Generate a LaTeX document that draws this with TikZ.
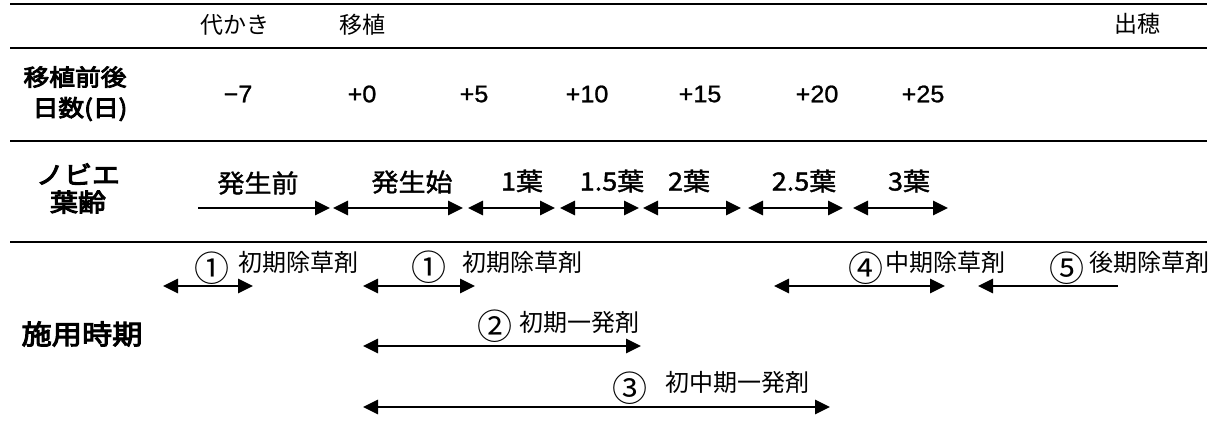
\documentclass[tikz,border=0pt]{standalone}
\usepackage{fontspec}
\setmainfont{Noto Sans CJK JP}
\newfontfamily\jpbold[FakeStretch=1.12,FakeBold=4]{Noto Sans CJK JP}
\newfontfamily\jpmid[FakeStretch=1.08,FakeBold=1.5]{Noto Sans CJK JP}
\newfontfamily\numfont[FakeStretch=1.05,FakeBold=1]{Liberation Sans}
\usetikzlibrary{arrows.meta}
\begin{document}
\begin{tikzpicture}[x=1pt,y=-1pt,
  every node/.style={inner sep=0pt,anchor=center},
  rule/.style={line width=2pt},
  tip/.tip={Triangle[length=15pt,width=14pt]},
  arr/.style={line width=2.7pt,-tip},
  rarr/.style={line width=2.7pt,tip-},
  darr/.style={line width=2.7pt,tip-tip},
  head/.style={font=\fontsize{23}{26}\selectfont},
  rowlab/.style={font=\jpbold\fontsize{23}{26}\selectfont},
  num/.style={font=\numfont\fontsize{24}{26}\selectfont},
  leaf/.style={font=\jpmid\fontsize{25}{27}\selectfont},
  herb/.style={font=\fontsize{24}{26}\selectfont},
  circ/.style={font=\fontsize{35}{37}\selectfont}]
\useasboundingbox (0,0) rectangle (1222,421);

% horizontal rules
\coordinate (r1a) at (10,4);   \coordinate (r1b) at (1207,4);
\coordinate (r2a) at (10,48);  \coordinate (r2b) at (1207,48);
\coordinate (r3a) at (10,141); \coordinate (r3b) at (1207,141);
\coordinate (r4a) at (10,242); \coordinate (r4b) at (1207,242);
\draw[rule] (r1a) -- (r1b);
\draw[rule] (r2a) -- (r2b);
\draw[rule] (r3a) -- (r3b);
\draw[rule] (r4a) -- (r4b);

% header
\node[head] (h1) at (235,25) {代かき};
\node[head] (h2) at (362,25) {移植};
\node[head] (h3) at (1137,24) {出穂};

% days row
\node[rowlab] (d1) at (75,77) {移植前後};
\node[rowlab] (d2) at (80,109) {日数(日)};
\node[num] (n1) at (238,94) {−7};
\node[num] (n2) at (362,94) {+0};
\node[num] (n3) at (474,94) {+5};
\node[num] (n4) at (587,94) {+10};
\node[num] (n5) at (700,94) {+15};
\node[num] (n6) at (817,94) {+20};
\node[num] (n7) at (923,94) {+25};

% leaf age row
\node[rowlab,font=\jpbold\fontsize{25}{27}\selectfont] (e1) at (78,174) {ノビエ};
\node[rowlab,font=\jpbold\fontsize{25}{27}\selectfont] (e2) at (78,202) {葉齢};
\node[leaf] (l1) at (258,183) {発生前};
\node[leaf] (l2) at (412,182) {発生始};
\node[leaf] (l3) at (522,181) {1葉};
\node[leaf] (l4) at (612,181) {1.5葉};
\node[leaf] (l5) at (689,181) {2葉};
\node[leaf] (l6) at (804,181) {2.5葉};
\node[leaf] (l7) at (909,181) {3葉};

\coordinate (a1s) at (198,208); \coordinate (a1e) at (330,208);
\coordinate (a2s) at (333,208); \coordinate (a2e) at (463,208);
\coordinate (a3s) at (468,208); \coordinate (a3e) at (555,208);
\coordinate (a4s) at (560,208); \coordinate (a4e) at (639,208);
\coordinate (a5s) at (643,208); \coordinate (a5e) at (741,208);
\coordinate (a6s) at (748,208); \coordinate (a6e) at (843,208);
\coordinate (a7s) at (853,208); \coordinate (a7e) at (948,208);
\draw[arr]  (a1s) -- (a1e);
\draw[darr] (a2s) -- (a2e);
\draw[darr] (a3s) -- (a3e);
\draw[darr] (a4s) -- (a4e);
\draw[darr] (a5s) -- (a5e);
\draw[darr] (a6s) -- (a6e);
\draw[darr] (a7s) -- (a7e);

% application timing
\node[rowlab,font=\jpbold\fontsize{27}{29}\selectfont] (s1) at (82,334) {施用時期};

\node[circ] (c1) at (212,268) {①};
\node[herb] (t1) at (298,262) {初期除草剤};
\coordinate (b1s) at (163,286); \coordinate (b1e) at (253,286);
\draw[darr] (b1s) -- (b1e);

\node[circ] (c2) at (429,267) {①};
\node[herb] (t2) at (522,262) {初期除草剤};
\coordinate (b2s) at (363,286); \coordinate (b2e) at (475,286);
\draw[darr] (b2s) -- (b2e);

\node[circ] (c3) at (495,326) {②};
\node[herb] (t3) at (579,322) {初期一発剤};
\coordinate (b3s) at (363,346); \coordinate (b3e) at (641,346);
\draw[darr] (b3s) -- (b3e);

\node[circ] (c4) at (630,388) {③};
\node[herb] (t4) at (737,382) {初中期一発剤};
\coordinate (b4s) at (363,407); \coordinate (b4e) at (830,407);
\draw[darr] (b4s) -- (b4e);

\node[circ] (c5) at (866,268) {④};
\node[herb] (t5) at (945,262) {中期除草剤};
\coordinate (b5s) at (774,286); \coordinate (b5e) at (945,286);
\draw[darr] (b5s) -- (b5e);

\node[circ] (c6) at (1067,268) {⑤};
\node[herb] (t6) at (1149,262) {後期除草剤};
\coordinate (b6s) at (978,286); \coordinate (b6e) at (1118,286);
\draw[rarr] (b6s) -- (b6e);
\end{tikzpicture}
\end{document}
